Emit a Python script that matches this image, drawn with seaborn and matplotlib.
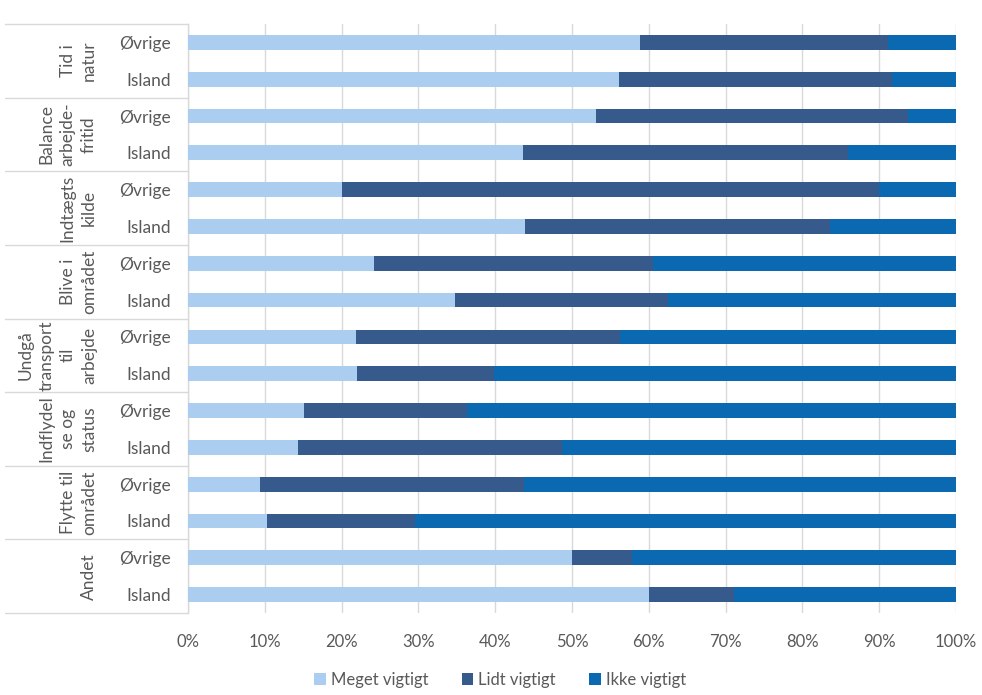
import numpy as np
import pandas as pd
import matplotlib
matplotlib.use("Agg")
import matplotlib.pyplot as plt
import matplotlib.transforms as mtransforms
from matplotlib.lines import Line2D
from matplotlib.patches import Patch
import seaborn as sns

groups = ["Tid i\nnatur", "Balance\narbejde-\nfritid", "Indtægts\nkilde", "Blive i\nområdet",
          "Undgå\ntransport\ntil\narbejde", "Indflydel\nse og\nstatus", "Flytte til\nområdet", "Andet"]
subgroups = ["Øvrige", "Island"]
series = ["Meget vigtigt", "Lidt vigtigt", "Ikke vigtigt"]

# values in % per row (top to bottom): group x subgroup
meget = [58.9, 56.1, 53.1, 43.6, 20.1, 43.9, 24.2, 34.8,
         21.9, 22.0, 15.1, 14.3, 9.4, 10.3, 50.0, 60.0]
lidt = [32.2, 35.6, 40.65, 42.3, 69.9, 39.7, 36.3, 27.7,
        34.35, 17.8, 21.2, 34.4, 34.35, 19.3, 7.8, 11.1]
ikke = [8.9, 8.3, 6.25, 14.1, 10.0, 16.4, 39.5, 37.5,
        43.75, 60.2, 63.7, 51.3, 56.25, 70.4, 42.2, 28.9]

xticks = [0, 10, 20, 30, 40, 50, 60, 70, 80, 90, 100]
xticklabels = [f"{v}%" for v in xticks]

colors = ["#abcdf0", "#375a8c", "#0b69b1"]
txt = "#595959"
grid = "#d9d9d9"

rows = [f"{g}|{s}" for g in groups for s in subgroups]
df = pd.DataFrame({"row": rows, "meget": meget, "lidt": lidt, "ikke": ikke})
df["c1"] = df["meget"]
df["c2"] = df["meget"] + df["lidt"]
df["c3"] = df["meget"] + df["lidt"] + df["ikke"]

sns.set_style("white")
plt.rcParams["font.family"] = ["Lato", "DejaVu Sans"]

W, H = 982, 695
fig = plt.figure(figsize=(W / 100, H / 100), dpi=100)
ax = fig.add_axes([188 / W, 1 - 613 / H, (956 - 188) / W, (613 - 24) / H])

for col, c in zip(["c3", "c2", "c1"], colors[::-1]):
    sns.barplot(data=df, x=col, y="row", order=rows, orient="h", color=c,
                width=0.4, saturation=1, ax=ax, zorder=3, linewidth=0)

ax.set_xlim(0, 100)
ax.set_ylim(len(rows) - 0.5, -0.5)
ax.set_xticks(xticks)
ax.set_xticklabels(xticklabels, color=txt, fontsize=12)
ax.set_yticks(range(len(rows)))
ax.set_yticklabels([r.split("|")[1] for r in rows], color=txt, fontsize=12.5)
ax.set_xlabel("")
ax.set_ylabel("")
ax.tick_params(axis="y", length=0, pad=12)
ax.tick_params(axis="x", length=6, color=grid, width=1, pad=9, direction="out")
ax.xaxis.grid(True, color=grid, linewidth=1, zorder=0)
ax.set_axisbelow(True)
for s in ["top", "right", "bottom"]:
    ax.spines[s].set_visible(False)
ax.spines["left"].set_color(grid)
ax.spines["left"].set_linewidth(1)

trans = mtransforms.blended_transform_factory(fig.transFigure, ax.transData)
for i in range(len(groups) + 1):
    yb = 2 * i - 0.5
    ax.add_line(Line2D([5 / W, 188 / W], [yb, yb], transform=trans, color=grid,
                       linewidth=1, clip_on=False))
for i, g in enumerate(groups):
    ax.text(97 / W, 2 * i + 0.5, g, transform=trans, rotation=90, ha="right",
            va="center", multialignment="center", color=txt, fontsize=12.5,
            linespacing=1.4)

handles = [Patch(facecolor=c, edgecolor="none") for c in colors]
fig.legend(handles, series, loc="center", bbox_to_anchor=(500 / W, 1 - 680 / H),
           ncol=3, frameon=False, fontsize=12, labelcolor=txt,
           handlelength=0.7, handleheight=0.7, handletextpad=0.3, columnspacing=2.0)

fig.savefig("out.png", dpi=100)
